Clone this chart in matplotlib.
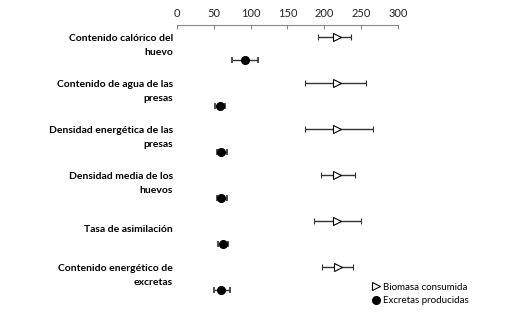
import matplotlib.pyplot as plt
import matplotlib.transforms as mtransforms
import numpy as np

# categories (top to bottom)
categorias = ["Contenido calórico del\nhuevo",
              "Contenido de agua de las\npresas",
              "Densidad energética de las\npresas",
              "Densidad media de los\nhuevos",
              "Tasa de asimilación",
              "Contenido energético de\nexcretas"]

# Biomasa consumida: centre, lower, upper
bio_c = [217, 217, 217, 217, 217, 219]
bio_lo = [191, 174, 174, 196, 186, 197]
bio_hi = [236, 257, 266, 242, 250, 239]

# Excretas producidas: centre, lower, upper
exc_c = [93, 58, 60, 60, 62, 60]
exc_lo = [75, 52, 54, 54, 56, 50]
exc_hi = [110, 65, 68, 68, 69, 72]

plt.rcParams['font.family'] = ['Lato', 'DejaVu Sans']

fig = plt.figure(figsize=(5.28, 3.19), dpi=100)
ax = fig.add_axes([0.335, 0.044, 0.419, 0.878])

pos = np.arange(len(categorias))
bc, bl, bh = map(np.array, (bio_c, bio_lo, bio_hi))
ec, el, eh = map(np.array, (exc_c, exc_lo, exc_hi))

ax.errorbar(bc, pos - 0.25, xerr=[bc - bl, bh - bc], fmt='>', ms=6,
            mfc='white', mec='black', mew=0.8, ecolor='#333333',
            elinewidth=1, capsize=2.5, capthick=1.2, label='Biomasa consumida')
ax.errorbar(ec, pos + 0.25, xerr=[ec - el, eh - ec], fmt='o', ms=5.5,
            mfc='black', mec='black', ecolor='#333333',
            elinewidth=1, capsize=2.5, capthick=1.2, label='Excretas producidas')

ax.set_xlim(0, 300)
ax.set_xticks(range(0, 301, 50))
ax.set_ylim(5.58, -0.51)
ax.xaxis.tick_top()
ax.tick_params(axis='x', direction='in', length=3, color='#888888',
               labelsize=8, labelcolor='#222222', pad=4)

ax.set_yticks([])
trans = mtransforms.blended_transform_factory(ax.transAxes, ax.transData)
for p, lab in zip(pos, categorias):
    ax.text(-0.018, p - 0.06, lab, transform=trans, ha='right', va='center',
            multialignment='right', fontweight='bold', fontsize=7.5,
            linespacing=1.6)

for s in ['left', 'right', 'bottom']:
    ax.spines[s].set_visible(False)
ax.spines['top'].set_color('#888888')

h, l = ax.get_legend_handles_labels()
h = [x[0] for x in h]
fig.legend(h, l, loc='lower left', bbox_to_anchor=(0.685, 0.015), frameon=False,
           fontsize=7, handletextpad=0.1, handlelength=1.2, labelspacing=0.5)

fig.savefig('out.png', dpi=100)
